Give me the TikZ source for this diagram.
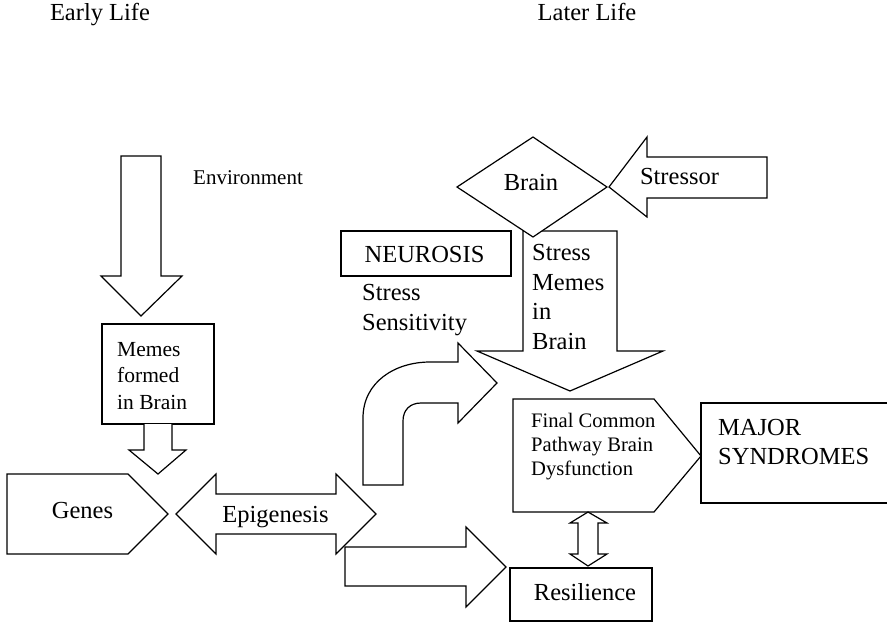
\documentclass[tikz,border=0pt]{standalone}
\usepackage{fontspec}
\setmainfont{Liberation Serif}
\newcommand{\myfs}[2]{\fontsize{#1}{#2}\selectfont}
\tikzset{
  shp/.style={draw, line width=1.2pt, line join=miter, fill=white},
  lbl/.style={inner sep=0pt, align=left, font=\myfs{24.5}{29.5}},
}
\begin{document}
\begin{tikzpicture}[x=1pt,y=-1pt]
\useasboundingbox (0,0) rectangle (887,625);
% headings
\node[lbl, anchor=base] (early) at (100,20) {Early Life};
\node[lbl, anchor=base] (later) at (587,20) {Later Life};
% environment arrow
\draw[shp] (121,156) -- (161,156) -- (161,276) -- (182,276) -- (141,316) -- (101,276) -- (121,276) -- cycle;
\node[lbl, anchor=base west, font=\myfs{21}{25}] (env) at (193,184) {Environment};
% memes box
\draw[shp] (102,324) rectangle (214,424);
\node[lbl, anchor=west, font=\myfs{21.5}{26.5}] (memes) at (117,376) {Memes\\formed\\in Brain};
\draw[shp] (144,424) -- (144,450) -- (129,450) -- (158,474) -- (186,450) -- (172,450) -- (172,424);
% genes
\draw[shp] (7,474) -- (128,474) -- (168,514) -- (128,554) -- (7,554) -- cycle;
\node[lbl, anchor=base] (genes) at (82.5,518) {Genes};
% epigenesis
\draw[shp] (176,514) -- (216,474) -- (216,494) -- (336,494) -- (336,474) -- (376,514) -- (336,554) -- (336,534) -- (216,534) -- (216,554) -- cycle;
\node[lbl, anchor=base] (epi) at (275.5,522) {Epigenesis};
% bottom arrow to resilience
\draw[shp] (345,547) -- (466,547) -- (466,527) -- (506,567) -- (466,607) -- (466,586) -- (345,586) -- cycle;
% curved arrow
\draw[shp] (363,485) -- (363,418) .. controls (363,382) and (395,362) .. (430,362) -- (458,362) -- (458,343) -- (497,383) -- (458,423) -- (458,403) -- (421,403) .. controls (410,403) and (403,410) .. (403,421) -- (403,485) -- cycle;
% neurosis
\draw[shp] (341,231) rectangle (511,276);
\node[lbl, anchor=base] (neur) at (424.5,262) {NEUROSIS};
\node[lbl, anchor=west] (sens) at (362,310) {Stress\\Sensitivity};
% stress memes arrow
\draw[shp] (523,231) -- (617,231) -- (617,351) -- (663,351) -- (570,391) -- (477,351) -- (523,351) -- cycle;
\node[lbl, anchor=west] (smemes) at (532,297) {Stress\\Memes\\in\\Brain};
% brain diamond
\draw[shp] (457,187) -- (533,137) -- (607,187) -- (533,237) -- cycle;
\node[lbl, anchor=base] (brain) at (531,190) {Brain};
% stressor arrow
\draw[shp] (609,187) -- (647,137) -- (647,157) -- (767,157) -- (767,198) -- (647,198) -- (647,217) -- cycle;
\node[lbl, anchor=base] (stressor) at (679.5,184) {Stressor};
% final common pathway
\draw[shp] (513,399) -- (654,399) -- (701,456) -- (654,512) -- (513,512) -- cycle;
\node[lbl, anchor=west, font=\myfs{20.6}{24}] (fcp) at (531,447) {Final Common\\Pathway Brain\\Dysfunction};
% major syndromes
\draw[shp] (701,403) rectangle (890,503);
\node[lbl, anchor=west] (major) at (718,442) {MAJOR\\SYNDROMES};
% double arrow
\draw[shp] (588,512) -- (607,523) -- (598,523) -- (598,554) -- (607,554) -- (588,566) -- (570,554) -- (578,554) -- (578,523) -- (570,523) -- cycle;
% resilience
\draw[shp] (510,568) rectangle (652,621);
\node[lbl, anchor=base] (res) at (585,600) {Resilience};
\end{tikzpicture}
\end{document}
